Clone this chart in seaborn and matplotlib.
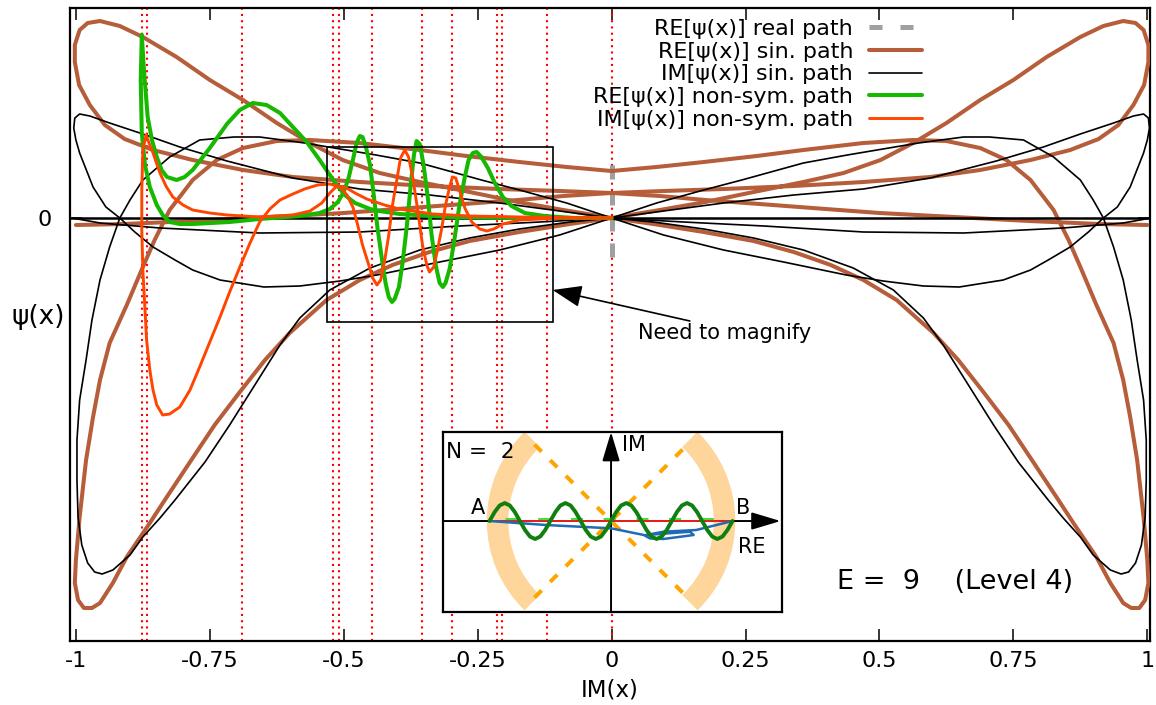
import numpy as np
import matplotlib
matplotlib.use("Agg")
import matplotlib.pyplot as plt
from matplotlib.lines import Line2D
from matplotlib.patches import Rectangle, Arc
import seaborn as sns

sns.set_theme(style="white")
plt.rcParams['font.family'] = ['DejaVu Sans']
plt.rcParams['text.color'] = 'black'
plt.rcParams['axes.labelcolor'] = 'black'
plt.rcParams['xtick.color'] = 'black'
plt.rcParams['ytick.color'] = 'black'

# ---------------- data ----------------
# RE[psi] along the sin. path (brown) -- left-starting branch and its mirror
re_sin_a_x = [0, -0.090, -0.175, -0.265, -0.358, -0.433, -0.502, -0.563, -0.625, -0.688, -0.750, -0.812,
              -0.875, -0.918, -0.955, -0.978, -0.993, -1.002, -1.002, -0.994, -0.974, -0.946, -0.909, -0.856,
              -0.782, -0.688, -0.595, -0.470, -0.340, -0.209, -0.097, 0, 0.090, 0.175, 0.276, 0.375, 0.500,
              0.640, 0.780, 0.910, 1.000]
re_sin_b_x = [0, 0.090, 0.175, 0.265, 0.358, 0.433, 0.502, 0.563, 0.625, 0.688, 0.750, 0.812,
              0.875, 0.918, 0.955, 0.978, 0.993, 1.002, 1.002, 0.994, 0.974, 0.946, 0.909, 0.856,
              0.782, 0.688, 0.595, 0.470, 0.340, 0.209, 0.097, 0, -0.090, -0.175, -0.276, -0.375, -0.500,
              -0.640, -0.780, -0.910, -1.000]
re_sin_ab_y = [0, 0.08, 0.16, 0.26, 0.36, 0.45, 0.58, 0.75, 0.95, 1.18, 1.38, 1.61, 1.81, 1.92, 1.97, 1.95,
               1.88, 1.73, 1.56, 1.33, 1.13, 0.93, 0.79, 0.68, 0.58, 0.48, 0.41, 0.36, 0.32, 0.29, 0.27,
               0.25, 0.22, 0.18, 0.14, 0.10, 0.05, 0.01, -0.03, -0.06, -0.07]

re_sin_c_x = [0, -0.084, -0.172, -0.271, -0.358, -0.470, -0.563, -0.625, -0.688, -0.737, -0.782, -0.825,
              -0.853, -0.875, -0.905, -0.937, -0.955, -0.968, -0.981, -0.993, -1.000, -1.002, -0.996, -0.985,
              -0.970, -0.955, -0.931, -0.905, -0.862, -0.834, -0.787, -0.741, -0.694, -0.647, -0.601, -0.532,
              -0.470, -0.409, -0.340, -0.265, -0.172, -0.078, 0]
re_sin_d_x = [0, 0.084, 0.172, 0.271, 0.358, 0.470, 0.563, 0.625, 0.688, 0.737, 0.782, 0.825,
              0.853, 0.875, 0.905, 0.937, 0.955, 0.968, 0.981, 0.993, 1.000, 1.002, 0.996, 0.985,
              0.970, 0.955, 0.931, 0.905, 0.862, 0.834, 0.787, 0.741, 0.694, 0.647, 0.601, 0.532,
              0.470, 0.409, 0.340, 0.265, 0.172, 0.078, 0]
re_sin_cd_y = [0.47, 0.51, 0.56, 0.62, 0.68, 0.75, 0.78, 0.77, 0.70, 0.58, 0.38, 0.08, -0.22, -0.49, -0.87,
               -1.25, -1.62, -1.99, -2.42, -2.99, -3.42, -3.65, -3.82, -3.90, -3.90, -3.85, -3.65, -3.39,
               -3.05, -2.82, -2.44, -2.07, -1.74, -1.42, -1.15, -0.82, -0.62, -0.47, -0.34, -0.23, -0.14,
               -0.06, 0]

# IM[psi] along the sin. path (black)
im_sin_a_x = [0, -0.084, -0.172, -0.243, -0.358, -0.440, -0.573, -0.657, -0.705, -0.769, -0.825, -0.875,
              -0.899, -0.918, -0.937, -0.955, -0.970, -0.981, -0.993, -0.998, -0.998, -0.996, -0.989, -0.978,
              -0.965, -0.951, -0.931, -0.899, -0.875, -0.843, -0.815, -0.759, -0.713, -0.666, -0.619, -0.582,
              -0.526, -0.451, -0.358, -0.265, -0.172, -0.078, 0]
im_sin_b_x = [0, 0.084, 0.172, 0.243, 0.358, 0.440, 0.573, 0.657, 0.705, 0.769, 0.825, 0.875,
              0.899, 0.918, 0.937, 0.955, 0.970, 0.981, 0.993, 0.998, 0.998, 0.996, 0.989, 0.978,
              0.965, 0.951, 0.931, 0.899, 0.875, 0.843, 0.815, 0.759, 0.713, 0.666, 0.619, 0.582,
              0.526, 0.451, 0.358, 0.265, 0.172, 0.078, 0]
im_sin_ab_y = [0, 0.15, 0.28, 0.38, 0.55, 0.63, 0.75, 0.81, 0.81, 0.78, 0.61, 0.38, 0.18, 0, -0.29, -0.62,
               -1.02, -1.42, -1.82, -2.22, -2.62, -2.99, -3.27, -3.45, -3.54, -3.56, -3.52, -3.37, -3.19,
               -3.00, -2.82, -2.44, -2.07, -1.67, -1.27, -1.00, -0.72, -0.50, -0.32, -0.20, -0.11, -0.04, 0]

im_sin_c_x = [0, -0.097, -0.209, -0.340, -0.470, -0.595, -0.718, -0.806, -0.875, -0.937, -0.974, -0.993,
              -1.002, -1.004, -1.000, -0.993, -0.968, -0.944, -0.918, -0.890, -0.856, -0.815, -0.782, -0.731,
              -0.649, -0.582, -0.507, -0.438, -0.321, -0.209, -0.097, 0]
im_sin_d_x = [0, 0.097, 0.209, 0.340, 0.470, 0.595, 0.718, 0.806, 0.875, 0.937, 0.974, 0.993,
              1.002, 1.004, 1.000, 0.993, 0.968, 0.944, 0.918, 0.890, 0.856, 0.815, 0.782, 0.731,
              0.649, 0.582, 0.507, 0.438, 0.321, 0.209, 0.097, 0]
im_sin_cd_y = [0, 0.07, 0.15, 0.23, 0.29, 0.40, 0.57, 0.71, 0.84, 0.95, 1.02, 1.04, 1.00, 0.90, 0.78, 0.65,
               0.31, 0.11, 0, -0.14, -0.29, -0.42, -0.52, -0.62, -0.69, -0.68, -0.63, -0.57, -0.44, -0.32,
               -0.17, 0]

im_sin_e_x = [0, -0.134, -0.284, -0.470, -0.657, -0.843, -0.955, -1.007]
im_sin_f_x = [0, 0.134, 0.284, 0.470, 0.657, 0.843, 0.955, 1.007]
im_sin_ef_y = [0, -0.04, -0.08, -0.14, -0.15, -0.10, -0.05, 0]

# RE[psi] along the non-sym. path (green)
re_ns_a_x = [-0.877, -0.873, -0.866, -0.858, -0.849, -0.840, -0.830, -0.812, -0.797, -0.782, -0.750, -0.718,
             -0.694, -0.670, -0.644, -0.619, -0.595, -0.569, -0.545, -0.526, -0.513, -0.498, -0.479, -0.446,
             -0.396, -0.302, -0.172, 0]
re_ns_a_y = [1.83, 1.48, 1.01, 0.78, 0.61, 0.48, 0.41, 0.38, 0.41, 0.48, 0.70, 0.94, 1.08, 1.15, 1.13, 1.05,
             0.91, 0.76, 0.58, 0.43, 0.33, 0.23, 0.15, 0.08, 0.04, 0.01, 0, 0]
re_ns_b_x = [-0.877, -0.879, -0.877, -0.871, -0.862, -0.849, -0.838, -0.825, -0.806, -0.782, -0.713, -0.657,
             -0.582, -0.545, -0.526, -0.511, -0.500, -0.491, -0.483, -0.476, -0.470, -0.465, -0.459, -0.451,
             -0.444, -0.437, -0.429, -0.422, -0.416, -0.410, -0.405, -0.397, -0.390, -0.382, -0.375, -0.369,
             -0.364, -0.358, -0.351, -0.343, -0.336, -0.328, -0.321, -0.315, -0.310, -0.302, -0.293, -0.284,
             -0.274, -0.267, -0.259, -0.252, -0.243, -0.231, -0.218, -0.203, -0.187, -0.162, -0.125, -0.069, 0]
re_ns_b_y = [1.83, 1.38, 0.85, 0.53, 0.31, 0.13, 0.03, -0.04, -0.06, -0.06, -0.04, -0.01, 0.02,
             0.05, 0.09, 0.16, 0.26, 0.40, 0.58, 0.75, 0.82, 0.81, 0.72, 0.53, 0.23, -0.10, -0.40, -0.65,
             -0.79, -0.84, -0.81, -0.69, -0.44, -0.07, 0.33, 0.63, 0.77, 0.74, 0.53, 0.20, -0.17, -0.48,
             -0.65, -0.69, -0.65, -0.50, -0.20, 0.13, 0.41, 0.58, 0.65, 0.66, 0.61, 0.50, 0.35, 0.21, 0.12,
             0.05, 0.02, 0, 0]

# IM[psi] along the non-sym. path (orange-red)
im_ns_a_x = [-0.869, -0.862, -0.856, -0.849, -0.843, -0.832, -0.819, -0.800, -0.782, -0.750, -0.718, -0.657,
             -0.595, -0.563, -0.541, -0.526, -0.513, -0.498, -0.479, -0.457, -0.424, -0.396, -0.334, -0.265,
             -0.172, 0]
im_ns_a_y = [0.83, 0.73, 0.65, 0.54, 0.45, 0.32, 0.21, 0.13, 0.08, 0.05, 0.03, 0.01, 0.03, 0.07, 0.15, 0.25,
             0.32, 0.31, 0.25, 0.19, 0.13, 0.09, 0.04, 0.02, 0.01, 0]
im_ns_b_x = [-0.869, -0.875, -0.877, -0.877, -0.875, -0.871, -0.868, -0.862, -0.856, -0.849, -0.838, -0.825,
             -0.806, -0.787, -0.769, -0.750, -0.731, -0.713, -0.694, -0.675, -0.657, -0.638, -0.619, -0.595,
             -0.573, -0.549, -0.526, -0.507, -0.494, -0.483, -0.474, -0.465, -0.455, -0.446, -0.438, -0.431,
             -0.424, -0.416, -0.409, -0.401, -0.394, -0.386, -0.379, -0.371, -0.362, -0.353, -0.345, -0.340,
             -0.332, -0.325, -0.317, -0.310, -0.302, -0.297, -0.291, -0.284, -0.274, -0.261, -0.246, -0.233,
             -0.220, -0.203, -0.172, -0.097, 0.0]
im_ns_b_y = [0.83, 0.68, 0.28, -0.12, -0.52, -0.92, -1.22, -1.52, -1.72, -1.87, -1.97, -1.96, -1.89, -1.72,
             -1.49, -1.24, -0.99, -0.74, -0.49, -0.25, -0.04, 0.09, 0.18, 0.24, 0.29, 0.33, 0.34, 0.31, 0.23,
             0.11, -0.07, -0.27, -0.44, -0.60, -0.67, -0.62, -0.44, -0.17, 0.13, 0.38, 0.60, 0.68, 0.61, 0.40,
             0.08, -0.27, -0.47, -0.54, -0.49, -0.32, -0.10, 0.13, 0.32, 0.41, 0.40, 0.28, 0.10, -0.04, -0.11,
             -0.13, -0.11, -0.06, -0.02, 0, 0]

# RE[psi] along the real path (grey dashed, at IM(x)=0)
re_real_x = [0, 0]
re_real_y = [0.53, -0.49]

# vertical dotted markers
marker_x = [-0.877, -0.8675, -0.690, -0.5205, -0.5093, -0.4478, -0.3545, -0.2985, -0.2146, -0.2052, -0.1213, 0.0]

# magnify box and arrow
box_x = [-0.532, -0.110]
box_y = [-1.04, 0.71]
arrow_tail = (0.146, -1.03)
arrow_tip = (-0.110, -0.72)

x_ticks = [-1, -0.75, -0.5, -0.25, 0, 0.25, 0.5, 0.75, 1]
x_tick_labels = ['-1', '-0.75', '-0.5', '-0.25', '0', '0.25', '0.5', '0.75', '1']

# inset sketch (complex plane, A=-1, B=+1)
ins_wave_x = [-1.000, -0.958, -0.917, -0.875, -0.833, -0.792, -0.750, -0.708, -0.667, -0.625, -0.583, -0.542,
              -0.500, -0.458, -0.417, -0.375, -0.333, -0.292, -0.250, -0.208, -0.167, -0.125, -0.083, -0.042,
              0.000, 0.042, 0.083, 0.125, 0.167, 0.208, 0.250, 0.292, 0.333, 0.375, 0.417, 0.458, 0.500,
              0.542, 0.583, 0.625, 0.667, 0.708, 0.750, 0.792, 0.833, 0.875, 0.917, 0.958, 1.000]
ins_wave_y = [0, 0.074, 0.128, 0.148, 0.128, 0.074, 0, -0.074, -0.128, -0.148, -0.128, -0.074,
              0, 0.074, 0.128, 0.148, 0.128, 0.074, 0, -0.074, -0.128, -0.148, -0.128, -0.074,
              0, 0.074, 0.128, 0.148, 0.128, 0.074, 0, -0.074, -0.128, -0.148, -0.128, -0.074,
              0, 0.074, 0.128, 0.148, 0.128, 0.074, 0, -0.074, -0.128, -0.148, -0.128, -0.074, 0]
ins_real_x = [-1.0, 1.0]
ins_real_y = [0.0, 0.0]
ins_dash_x = [-0.87, 0.87]
ins_dash_y = [0.02, 0.02]
ins_blue_x = [-1.0, -0.53, 0.0, 0.27, 0.32, 0.43, 0.68, 0.65, 0.29, 0.43, 0.70, 1.0]
ins_blue_y = [0, -0.033, -0.06, -0.115, -0.143, -0.148, -0.115, -0.088, -0.115, -0.088, -0.074, 0]
ins_diag_x = [-0.63, 0.63]
ins_diag1_y = [0.63, -0.63]
ins_diag2_y = [-0.63, 0.63]
ins_arc_r = 0.934
ins_arc_left = (134, 226)
ins_arc_right = (-46, 46)

# ---------------- styles ----------------
BROWN = '#b65d3a'
GREEN = '#17b800'
ORANGE = '#ff4500'
GREY = '#a0a0a0'

W, H = 1156, 705
fig = plt.figure(figsize=(W / 100, H / 100), dpi=100)
ax = fig.add_axes([70 / W, 64 / H, 1080 / W, 633 / H])
ax.set_facecolor('white')


def draw(x, y, color, lw, z, **kw):
    sns.lineplot(x=np.asarray(x, float), y=np.asarray(y, float), sort=False, estimator=None,
                 color=color, lw=lw, ax=ax, zorder=z, legend=False,
                 solid_joinstyle='round', solid_capstyle='round', **kw)


for xv in marker_x:
    ax.axvline(xv, color='red', lw=1.5, dashes=(1, 2), zorder=1)

ax.axhline(0, color='black', lw=1.8, zorder=4)

draw(re_real_x, re_real_y, GREY, 3.6, 2)
ax.lines[-1].set_dashes((2.8, 2.4))
ax.lines[-1].set_solid_capstyle('butt')

draw(re_sin_a_x, re_sin_ab_y, BROWN, 2.9, 3)
draw(re_sin_b_x, re_sin_ab_y, BROWN, 2.9, 3)
draw(re_sin_c_x, re_sin_cd_y, BROWN, 2.9, 3)
draw(re_sin_d_x, re_sin_cd_y, BROWN, 2.9, 3)

draw(im_sin_a_x, im_sin_ab_y, 'black', 1.2, 4)
draw(im_sin_b_x, im_sin_ab_y, 'black', 1.2, 4)
draw(im_sin_c_x, im_sin_cd_y, 'black', 1.2, 4)
draw(im_sin_d_x, im_sin_cd_y, 'black', 1.2, 4)
draw(im_sin_e_x, im_sin_ef_y, 'black', 1.2, 4)
draw(im_sin_f_x, im_sin_ef_y, 'black', 1.2, 4)

draw(re_ns_a_x, re_ns_a_y, GREEN, 2.9, 5)
draw(re_ns_b_x, re_ns_b_y, GREEN, 2.9, 5)
draw(im_ns_a_x, im_ns_a_y, ORANGE, 2.1, 6)
draw(im_ns_b_x, im_ns_b_y, ORANGE, 2.1, 6)

ax.add_patch(Rectangle((box_x[0], box_y[0]), box_x[1] - box_x[0], box_y[1] - box_y[0],
                       fill=False, ec='black', lw=1.2, zorder=7))
ax.annotate('', xy=arrow_tip, xytext=arrow_tail,
            arrowprops=dict(arrowstyle='-|>,head_length=1.2,head_width=0.45', mutation_scale=15,
                            lw=1.2, color='black', shrinkA=0, shrinkB=0), zorder=7)
ax.text(0.050, -1.15, 'Need to magnify', fontsize=15, ha='left', va='center', zorder=7)
ax.text(0.420, -3.64, 'E =  9    (Level 4)', fontsize=19.5, ha='left', va='center', zorder=7)

ax.set_xlim(-1.011, 1.005)
ax.set_ylim(-4.23, 2.10)
ax.set_xticks(x_ticks)
ax.set_xticklabels(x_tick_labels)
ax.set_yticks([0])
ax.set_yticklabels(['0'])
ax.tick_params(axis='x', direction='in', length=8.6, width=1.1, top=True, bottom=True,
               labelsize=16, pad=7.5, colors='black')
ax.tick_params(axis='y', direction='in', length=8.6, width=1.1, left=True, right=True,
               labelsize=16, pad=13, colors='black')
for s in ax.spines.values():
    s.set_linewidth(1.6)
    s.set_color('black')
ax.set_xlabel('IM(x)', fontsize=16.5, labelpad=5, color='black')
ax.set_ylabel('ψ(x)', fontsize=19, rotation=0, ha='center', va='center', color='black')
ax.yaxis.set_label_coords(-0.029, 0.512)
ax.grid(False)

handles = [Line2D([], [], color=GREY, lw=3.6, dashes=(2.6, 3.6), solid_capstyle='butt'),
           Line2D([], [], color=BROWN, lw=2.9),
           Line2D([], [], color='black', lw=1.2),
           Line2D([], [], color=GREEN, lw=2.9),
           Line2D([], [], color=ORANGE, lw=2.1)]
labels = ['RE[ψ(x)] real path', 'RE[ψ(x)] sin. path', 'IM[ψ(x)] sin. path',
          'RE[ψ(x)] non-sym. path', 'IM[ψ(x)] non-sym. path']
leg = ax.legend(handles, labels, loc='upper right', bbox_to_anchor=(922 / W, (H - 19) / H),
                bbox_transform=fig.transFigure, frameon=False, markerfirst=False, fontsize=16,
                handlelength=2.4, handletextpad=0.7, labelspacing=0.12, borderpad=0, borderaxespad=0)
for t in leg.get_texts():
    t.set_color('black')
leg.set_zorder(8)

# ---------------- inset ----------------
ins = fig.add_axes([443 / W, 93 / H, 339 / W, 180 / H])
ins.set_zorder(10)
ins.set_facecolor('white')
ins.set_xlim(-1.383, 1.407)
ins.set_ylim(-0.749, 0.733)
ins.set_xticks([])
ins.set_yticks([])
for s in ins.spines.values():
    s.set_linewidth(1.6)
    s.set_color('black')

ins.add_patch(Arc((0, 0), 2 * ins_arc_r, 2 * ins_arc_r, theta1=ins_arc_left[0], theta2=ins_arc_left[1],
                  lw=15.5, color='#fed59a', zorder=1))
ins.add_patch(Arc((0, 0), 2 * ins_arc_r, 2 * ins_arc_r, theta1=ins_arc_right[0], theta2=ins_arc_right[1],
                  lw=15.5, color='#fed59a', zorder=1))
ins.plot(ins_diag_x, ins_diag1_y, color='#ffa500', lw=2.9, dashes=(2.5, 3.0), zorder=2)
ins.plot(ins_diag_x, ins_diag2_y, color='#ffa500', lw=2.9, dashes=(2.5, 3.0), zorder=2)
ins.annotate('', xy=(1.395, 0), xytext=(-1.383, 0),
             arrowprops=dict(arrowstyle='-|>,head_length=1.0,head_width=0.3', mutation_scale=18,
                             lw=1.4, color='black', shrinkA=0, shrinkB=0), zorder=3)
ins.annotate('', xy=(0, 0.733), xytext=(0, -0.749),
             arrowprops=dict(arrowstyle='-|>,head_length=1.0,head_width=0.3', mutation_scale=18,
                             lw=1.4, color='black', shrinkA=0, shrinkB=0), zorder=3)
ins.plot(ins_dash_x, ins_dash_y, color='#40e040', lw=2.2, dashes=(4, 6.7), zorder=4)
ins.plot(ins_real_x, ins_real_y, color='#e8201c', lw=1.4, zorder=5)
ins.plot(ins_blue_x, ins_blue_y, color='#1f6bb5', lw=1.8, zorder=6)
ins.plot(ins_wave_x, ins_wave_y, color='#0f7f0f', lw=2.8, zorder=7, solid_joinstyle='round')
ins.text(-1.36, 0.568, 'N =  2', fontsize=15.5, ha='left', va='center')
ins.text(0.09, 0.625, 'IM', fontsize=15, ha='left', va='center')
ins.text(-1.095, 0.107, 'A', fontsize=15, ha='center', va='center')
ins.text(1.086, 0.107, 'B', fontsize=15, ha='center', va='center')
ins.text(1.16, -0.214, 'RE', fontsize=15, ha='center', va='center')

fig.savefig('out.png', dpi=100)
